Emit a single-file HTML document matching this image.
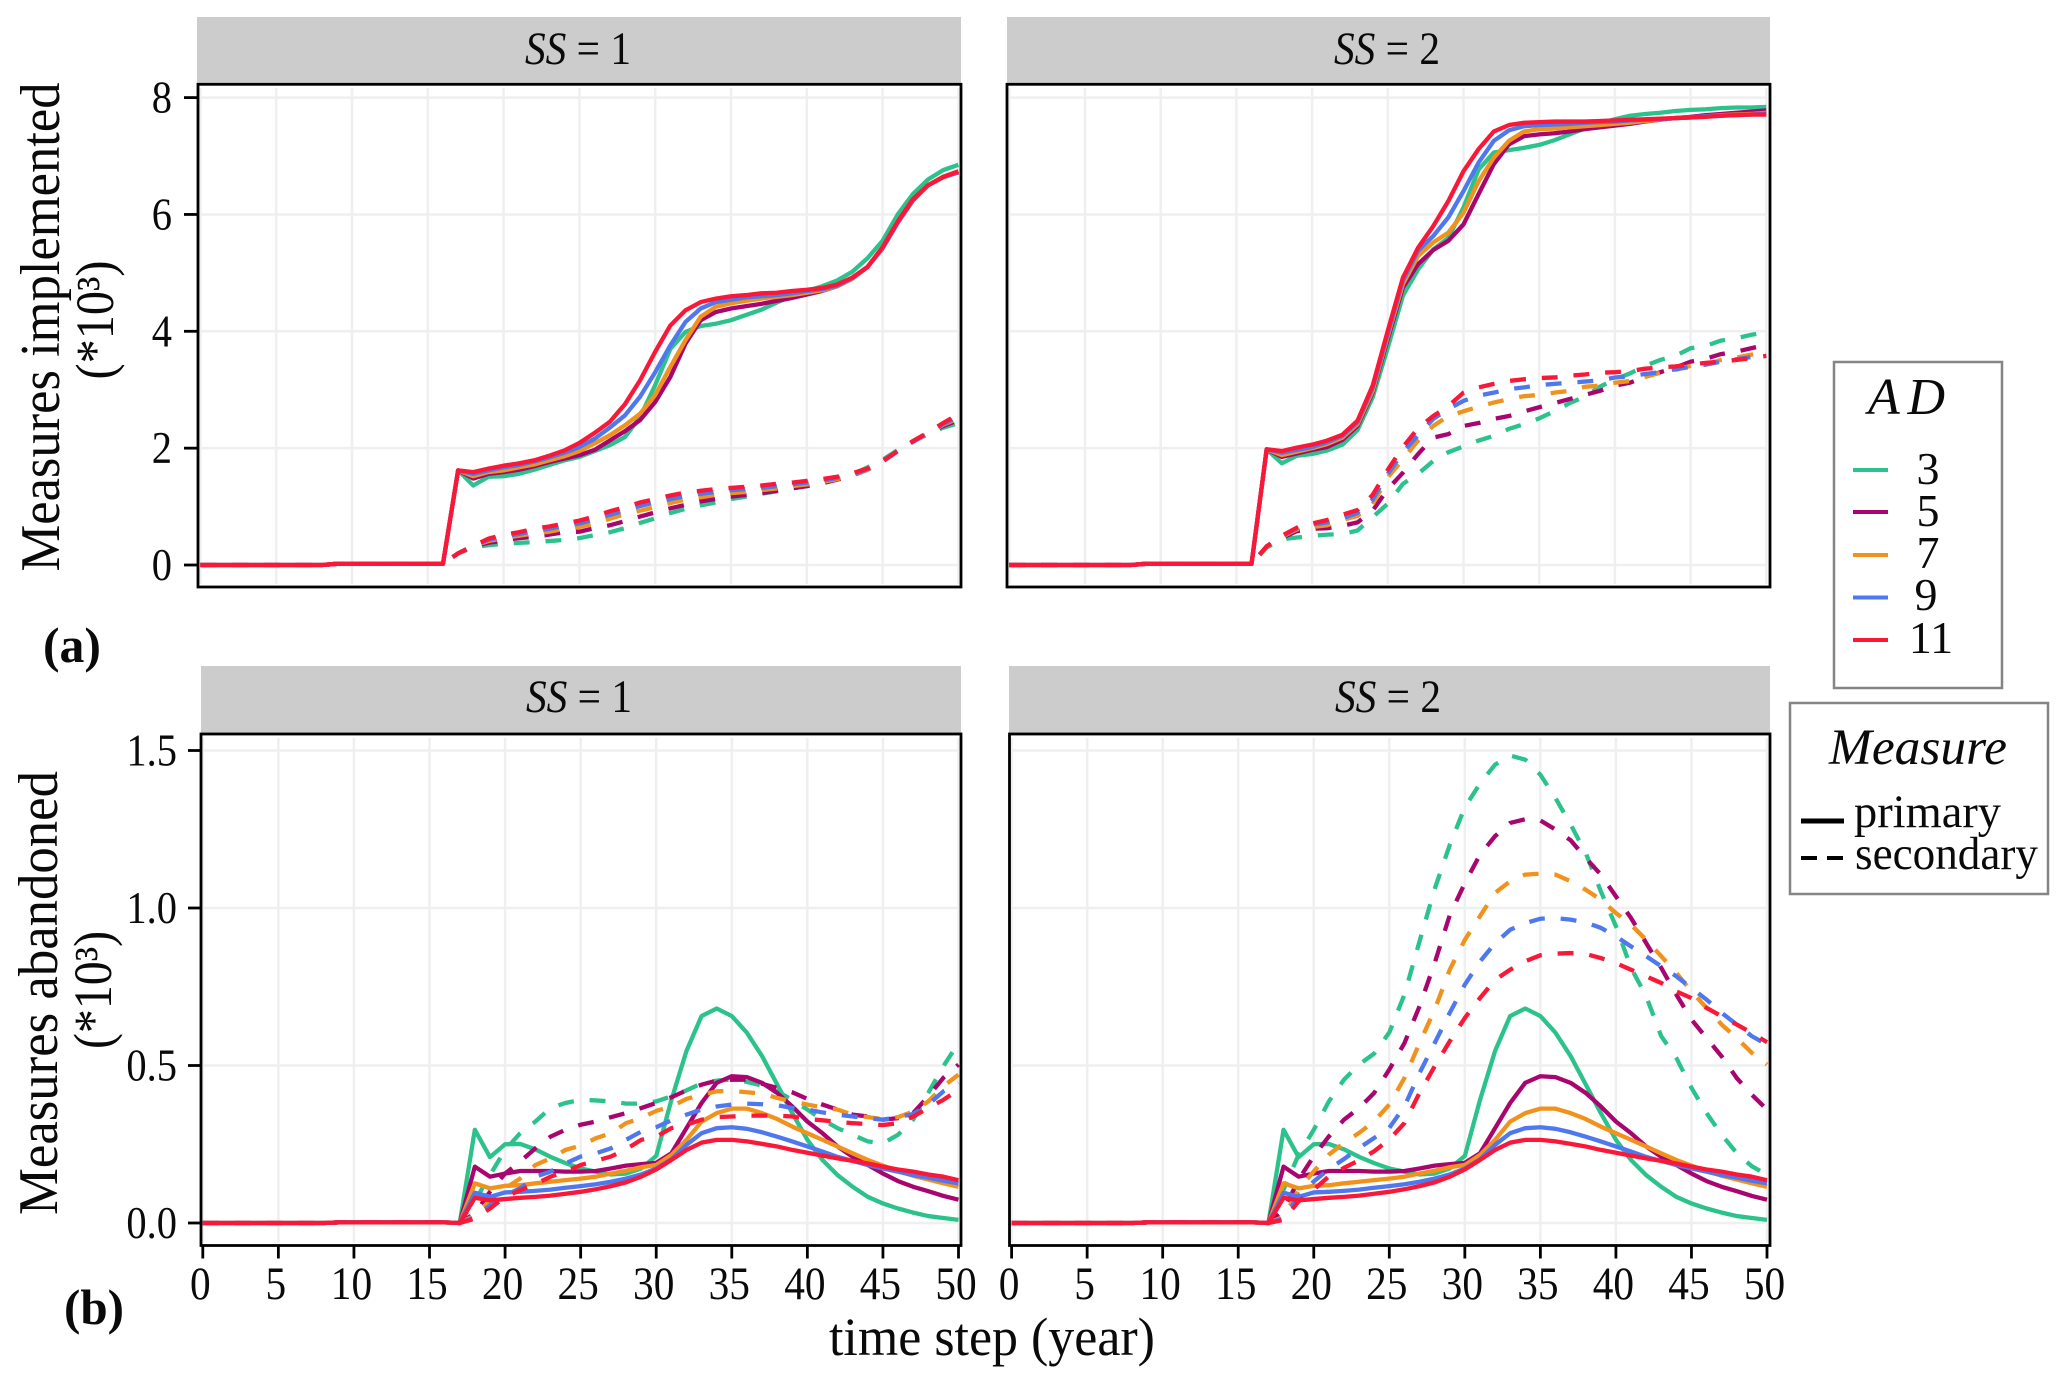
<!DOCTYPE html>
<html lang="en">
<head>
<meta charset="utf-8">
<title>Measures implemented and abandoned over time</title>
<style>
html,body{margin:0;padding:0;background:#fff;}
svg{display:block;}
text{font-family:"Liberation Serif",serif;fill:#0a0a0a;}
</style>
</head>
<body>
<svg id="chart" xmlns="http://www.w3.org/2000/svg" width="2067" height="1386" viewBox="0 0 2067 1386">
  <rect width="2067" height="1386" fill="#fff"/>
  <g id="panels"></g>

  <text transform="translate(59,327) rotate(-90)" text-anchor="middle" font-size="56" textLength="489" lengthAdjust="spacingAndGlyphs">Measures implemented</text>
  <text transform="translate(113,320) rotate(-90)" text-anchor="middle" font-size="54" textLength="119" lengthAdjust="spacingAndGlyphs">(*10³)</text>
  <text transform="translate(57,993) rotate(-90)" text-anchor="middle" font-size="56" textLength="444" lengthAdjust="spacingAndGlyphs">Measures abandoned</text>
  <text transform="translate(111,990) rotate(-90)" text-anchor="middle" font-size="54" textLength="118" lengthAdjust="spacingAndGlyphs">(*10³)</text>
  <text x="829" y="1355" font-size="54" textLength="326" lengthAdjust="spacingAndGlyphs">time step (year)</text>
  <text x="43" y="662" font-size="50" font-weight="bold" textLength="58" lengthAdjust="spacingAndGlyphs">(a)</text>
  <text x="64" y="1324" font-size="50" font-weight="bold" textLength="60" lengthAdjust="spacingAndGlyphs">(b)</text>

  <g>
    <rect x="1834" y="362" width="168" height="326" fill="#fff" stroke="#858585" stroke-width="2.5"/>
    <text x="1868" y="414" font-size="52" font-style="italic" textLength="77" lengthAdjust="spacing">AD</text>
    <line x1="1853" x2="1888" y1="470" y2="470" stroke="#2cc28b" stroke-width="4"/>
    <line x1="1853" x2="1888" y1="512" y2="512" stroke="#a8056f" stroke-width="4"/>
    <line x1="1853" x2="1888" y1="555" y2="555" stroke="#f1921d" stroke-width="4"/>
    <line x1="1853" x2="1888" y1="597.5" y2="597.5" stroke="#4f78ee" stroke-width="4"/>
    <line x1="1853" x2="1888" y1="640" y2="640" stroke="#fa1737" stroke-width="4"/>
    <text x="1928" y="484" font-size="46" text-anchor="middle">3</text>
    <text x="1928" y="526" font-size="46" text-anchor="middle">5</text>
    <text x="1928" y="568" font-size="46" text-anchor="middle">7</text>
    <text x="1926" y="610" font-size="46" text-anchor="middle">9</text>
    <text x="1931" y="653" font-size="46" text-anchor="middle">11</text>
  </g>

  <g>
    <rect x="1790" y="703" width="258" height="191" fill="#fff" stroke="#858585" stroke-width="2.5"/>
    <text x="1829" y="764" font-size="51" font-style="italic" textLength="178" lengthAdjust="spacingAndGlyphs">Measure</text>
    <line x1="1801" x2="1844" y1="821" y2="821" stroke="#000" stroke-width="5"/>
    <line x1="1801" x2="1844" y1="858" y2="858" stroke="#000" stroke-width="4" stroke-dasharray="16 10"/>
    <text x="1854" y="827" font-size="47" textLength="147" lengthAdjust="spacingAndGlyphs">primary</text>
    <text x="1855" y="869" font-size="47" textLength="183" lengthAdjust="spacingAndGlyphs">secondary</text>
  </g>
</svg>

<script>
// ---------- axis tick labels ----------
const xTicks = [0,5,10,15,20,25,30,35,40,45,50];
const yTicksImplemented = [0,2,4,6,8];
const yTicksAbandoned = [0,0.5,1.0,1.5];
const yTickLabelsAbandoned = ["0.0","0.5","1.0","1.5"];
const adLevels = [3,5,7,9,11];

// ---------- implemented, SS = 1, primary (year 0..50) ----------
const implS1PrimaryAd3 = [0,0,0,0,0,0,0,0,0,0.02,0.02,0.02,0.02,0.02,0.02,0.02,0.02,1.62,1.36,1.51,1.52,1.56,1.63,1.71,1.79,1.85,1.95,2.05,2.19,2.53,3.08,3.70,3.99,4.09,4.13,4.19,4.28,4.37,4.49,4.60,4.69,4.77,4.87,5.02,5.25,5.55,6.00,6.35,6.60,6.76,6.85];
const implS1PrimaryAd5 = [0,0,0,0,0,0,0,0,0,0.02,0.02,0.02,0.02,0.02,0.02,0.02,0.02,1.62,1.48,1.56,1.59,1.63,1.69,1.76,1.82,1.88,1.97,2.13,2.29,2.48,2.79,3.22,3.79,4.19,4.33,4.39,4.43,4.47,4.52,4.57,4.63,4.69,4.77,4.90,5.10,5.42,5.86,6.24,6.50,6.64,6.72];
const implS1PrimaryAd7 = [0,0,0,0,0,0,0,0,0,0.02,0.02,0.02,0.02,0.02,0.02,0.02,0.02,1.62,1.52,1.59,1.62,1.67,1.72,1.79,1.86,1.95,2.08,2.22,2.39,2.59,2.91,3.39,3.85,4.25,4.42,4.48,4.52,4.56,4.59,4.62,4.66,4.70,4.77,4.90,5.10,5.43,5.87,6.25,6.50,6.65,6.74];
const implS1PrimaryAd9 = [0,0,0,0,0,0,0,0,0,0.02,0.02,0.02,0.02,0.02,0.02,0.02,0.02,1.62,1.56,1.62,1.67,1.71,1.77,1.84,1.92,2.02,2.16,2.35,2.56,2.88,3.30,3.76,4.16,4.39,4.50,4.54,4.58,4.60,4.62,4.65,4.69,4.72,4.78,4.91,5.10,5.43,5.87,6.25,6.50,6.64,6.73];
const implS1PrimaryAd11 = [0,0,0,0,0,0,0,0,0,0.02,0.02,0.02,0.02,0.02,0.02,0.02,0.02,1.62,1.59,1.65,1.70,1.74,1.79,1.87,1.96,2.09,2.26,2.45,2.75,3.16,3.65,4.10,4.36,4.50,4.56,4.60,4.62,4.65,4.66,4.69,4.71,4.74,4.80,4.92,5.10,5.44,5.88,6.26,6.50,6.64,6.74];

// ---------- implemented, SS = 1, secondary ----------
const implS1SecondaryAd3 = [0,0,0,0,0,0,0,0,0,0.02,0.02,0.02,0.02,0.02,0.02,0.02,0.02,0.20,0.30,0.34,0.36,0.38,0.39,0.41,0.43,0.46,0.51,0.56,0.63,0.72,0.80,0.89,0.96,1.02,1.07,1.13,1.17,1.22,1.26,1.31,1.35,1.40,1.47,1.55,1.67,1.80,1.97,2.12,2.24,2.35,2.43];
const implS1SecondaryAd5 = [0,0,0,0,0,0,0,0,0,0.02,0.02,0.02,0.02,0.02,0.02,0.02,0.02,0.20,0.32,0.38,0.42,0.46,0.48,0.52,0.56,0.57,0.63,0.68,0.75,0.83,0.90,0.97,1.03,1.09,1.13,1.17,1.20,1.23,1.27,1.31,1.35,1.40,1.46,1.53,1.63,1.77,1.95,2.11,2.25,2.38,2.48];
const implS1SecondaryAd7 = [0,0,0,0,0,0,0,0,0,0.02,0.02,0.02,0.02,0.02,0.02,0.02,0.02,0.20,0.33,0.41,0.46,0.50,0.54,0.57,0.62,0.65,0.71,0.79,0.87,0.93,0.99,1.06,1.12,1.16,1.20,1.23,1.25,1.28,1.31,1.35,1.38,1.42,1.47,1.54,1.63,1.77,1.95,2.11,2.25,2.40,2.51];
const implS1SecondaryAd9 = [0,0,0,0,0,0,0,0,0,0.02,0.02,0.02,0.02,0.02,0.02,0.02,0.02,0.20,0.33,0.43,0.49,0.53,0.58,0.62,0.67,0.71,0.78,0.86,0.93,1.01,1.07,1.13,1.18,1.22,1.25,1.28,1.30,1.32,1.35,1.38,1.41,1.44,1.49,1.55,1.64,1.77,1.95,2.11,2.26,2.41,2.54];
const implS1SecondaryAd11 = [0,0,0,0,0,0,0,0,0,0.02,0.02,0.02,0.02,0.02,0.02,0.02,0.02,0.20,0.33,0.45,0.52,0.56,0.62,0.66,0.71,0.76,0.83,0.92,0.99,1.07,1.13,1.19,1.24,1.27,1.30,1.32,1.34,1.36,1.39,1.41,1.44,1.47,1.51,1.57,1.65,1.78,1.95,2.12,2.27,2.43,2.58];

// ---------- implemented, SS = 2, primary ----------
const implS2PrimaryAd3 = [0,0,0,0,0,0,0,0,0,0.02,0.02,0.02,0.02,0.02,0.02,0.02,0.02,1.98,1.74,1.87,1.90,1.96,2.06,2.31,2.87,3.72,4.61,5.06,5.40,5.60,6.12,6.77,7.06,7.10,7.14,7.19,7.27,7.37,7.47,7.56,7.63,7.69,7.72,7.74,7.77,7.79,7.80,7.82,7.83,7.83,7.84];
const implS2PrimaryAd5 = [0,0,0,0,0,0,0,0,0,0.02,0.02,0.02,0.02,0.02,0.02,0.02,0.02,1.98,1.85,1.91,1.97,2.02,2.14,2.38,2.95,3.87,4.75,5.15,5.39,5.55,5.83,6.35,6.86,7.20,7.34,7.37,7.39,7.42,7.46,7.49,7.52,7.55,7.59,7.62,7.65,7.67,7.70,7.72,7.74,7.76,7.78];
const implS2PrimaryAd7 = [0,0,0,0,0,0,0,0,0,0.02,0.02,0.02,0.02,0.02,0.02,0.02,0.02,1.98,1.88,1.94,2.00,2.07,2.18,2.41,2.98,3.92,4.81,5.29,5.52,5.69,6.03,6.57,6.97,7.26,7.42,7.46,7.47,7.49,7.51,7.53,7.55,7.57,7.60,7.62,7.65,7.66,7.68,7.70,7.71,7.72,7.74];
const implS2PrimaryAd9 = [0,0,0,0,0,0,0,0,0,0.02,0.02,0.02,0.02,0.02,0.02,0.02,0.02,1.98,1.92,1.97,2.02,2.10,2.21,2.44,3.03,3.96,4.87,5.38,5.63,5.95,6.40,6.89,7.26,7.44,7.51,7.53,7.54,7.55,7.57,7.58,7.59,7.61,7.62,7.63,7.65,7.66,7.68,7.69,7.70,7.71,7.73];
const implS2PrimaryAd11 = [0,0,0,0,0,0,0,0,0,0.02,0.02,0.02,0.02,0.02,0.02,0.02,0.02,1.98,1.95,2.01,2.06,2.13,2.23,2.47,3.07,4.01,4.92,5.43,5.80,6.23,6.74,7.12,7.42,7.53,7.57,7.58,7.59,7.59,7.59,7.60,7.61,7.62,7.63,7.64,7.65,7.66,7.67,7.69,7.70,7.71,7.71];

// ---------- implemented, SS = 2, secondary ----------
const implS2SecondaryAd3 = [0,0,0,0,0,0,0,0,0,0.02,0.02,0.02,0.02,0.02,0.02,0.02,0.02,0.30,0.44,0.47,0.50,0.52,0.53,0.59,0.82,1.05,1.39,1.56,1.78,1.93,2.03,2.13,2.21,2.33,2.41,2.51,2.63,2.77,2.88,3.05,3.18,3.28,3.41,3.51,3.58,3.71,3.75,3.84,3.88,3.94,3.98];
const implS2SecondaryAd5 = [0,0,0,0,0,0,0,0,0,0.02,0.02,0.02,0.02,0.02,0.02,0.02,0.02,0.31,0.46,0.58,0.62,0.63,0.67,0.73,0.93,1.30,1.58,1.90,2.18,2.24,2.38,2.43,2.50,2.55,2.63,2.70,2.77,2.84,2.91,2.98,3.07,3.12,3.22,3.30,3.38,3.48,3.53,3.61,3.65,3.71,3.77];
const implS2SecondaryAd7 = [0,0,0,0,0,0,0,0,0,0.02,0.02,0.02,0.02,0.02,0.02,0.02,0.02,0.31,0.48,0.61,0.65,0.68,0.77,0.84,1.04,1.50,1.81,2.13,2.38,2.55,2.63,2.71,2.78,2.84,2.89,2.91,2.95,2.98,3.05,3.07,3.12,3.15,3.22,3.29,3.34,3.41,3.43,3.51,3.55,3.60,3.64];
const implS2SecondaryAd9 = [0,0,0,0,0,0,0,0,0,0.02,0.02,0.02,0.02,0.02,0.02,0.02,0.02,0.32,0.49,0.63,0.69,0.73,0.80,0.89,1.12,1.56,1.93,2.22,2.50,2.67,2.81,2.90,2.95,3.01,3.04,3.08,3.10,3.12,3.14,3.16,3.21,3.23,3.27,3.30,3.35,3.39,3.43,3.48,3.52,3.56,3.60];
const implS2SecondaryAd11 = [0,0,0,0,0,0,0,0,0,0.02,0.02,0.02,0.02,0.02,0.02,0.02,0.02,0.32,0.50,0.64,0.71,0.77,0.86,0.94,1.20,1.63,2.02,2.34,2.55,2.72,2.95,3.04,3.10,3.15,3.18,3.20,3.21,3.24,3.26,3.29,3.30,3.32,3.36,3.38,3.40,3.43,3.46,3.48,3.51,3.54,3.58];

// ---------- abandoned, primary (same in SS = 1 and SS = 2) ----------
const abanPrimaryAd3 = [0,0,0,0,0,0,0,0,0,0.002,0.002,0.002,0.002,0.002,0.002,0.002,0.002,0,0.296,0.209,0.25,0.251,0.234,0.21,0.19,0.173,0.163,0.154,0.157,0.173,0.213,0.39,0.546,0.657,0.681,0.657,0.604,0.53,0.44,0.349,0.264,0.2,0.152,0.115,0.083,0.062,0.046,0.033,0.022,0.016,0.01];
const abanPrimaryAd5 = [0,0,0,0,0,0,0,0,0,0.002,0.002,0.002,0.002,0.002,0.002,0.002,0.002,0,0.179,0.147,0.157,0.165,0.165,0.165,0.163,0.163,0.165,0.173,0.182,0.187,0.191,0.221,0.301,0.381,0.445,0.466,0.463,0.445,0.413,0.37,0.322,0.285,0.243,0.21,0.184,0.157,0.133,0.115,0.101,0.086,0.074];
const abanPrimaryAd7 = [0,0,0,0,0,0,0,0,0,0.002,0.002,0.002,0.002,0.002,0.002,0.002,0.002,0,0.126,0.11,0.118,0.12,0.126,0.131,0.136,0.141,0.147,0.157,0.166,0.177,0.184,0.216,0.264,0.322,0.349,0.363,0.363,0.349,0.33,0.306,0.285,0.264,0.243,0.221,0.2,0.182,0.165,0.15,0.138,0.126,0.115];
const abanPrimaryAd9 = [0,0,0,0,0,0,0,0,0,0.002,0.002,0.002,0.002,0.002,0.002,0.002,0.002,0,0.096,0.083,0.097,0.099,0.102,0.106,0.112,0.117,0.123,0.131,0.141,0.154,0.173,0.202,0.248,0.285,0.301,0.304,0.299,0.288,0.274,0.259,0.243,0.227,0.21,0.197,0.184,0.173,0.163,0.152,0.144,0.134,0.126];
const abanPrimaryAd11 = [0,0,0,0,0,0,0,0,0,0.002,0.002,0.002,0.002,0.002,0.002,0.002,0.002,0,0.08,0.072,0.076,0.08,0.083,0.087,0.093,0.099,0.107,0.117,0.129,0.147,0.17,0.2,0.232,0.255,0.264,0.264,0.259,0.251,0.243,0.232,0.223,0.214,0.205,0.197,0.189,0.179,0.17,0.163,0.154,0.147,0.136];

// ---------- abandoned, SS = 1, secondary ----------
const abanS1SecondaryAd3 = [0,0,0,0,0,0,0,0,0,0.002,0.002,0.002,0.002,0.002,0.002,0.002,0.002,0,0.07,0.152,0.232,0.285,0.322,0.365,0.381,0.391,0.389,0.386,0.379,0.379,0.386,0.402,0.421,0.443,0.452,0.455,0.448,0.436,0.418,0.391,0.36,0.328,0.301,0.28,0.259,0.253,0.28,0.328,0.413,0.498,0.572];
const abanS1SecondaryAd5 = [0,0,0,0,0,0,0,0,0,0.002,0.002,0.002,0.002,0.002,0.002,0.002,0.002,0,0.03,0.099,0.157,0.195,0.237,0.274,0.296,0.312,0.322,0.336,0.349,0.365,0.381,0.399,0.421,0.439,0.452,0.455,0.455,0.442,0.429,0.415,0.394,0.376,0.36,0.344,0.338,0.328,0.333,0.349,0.402,0.461,0.503];
const abanS1SecondaryAd7 = [0,0,0,0,0,0,0,0,0,0.002,0.002,0.002,0.002,0.002,0.002,0.002,0.002,0,0.024,0.072,0.11,0.141,0.184,0.205,0.232,0.246,0.269,0.285,0.317,0.333,0.356,0.37,0.394,0.407,0.418,0.42,0.415,0.411,0.397,0.386,0.376,0.367,0.36,0.344,0.336,0.33,0.336,0.354,0.386,0.434,0.471];
const abanS1SecondaryAd9 = [0,0,0,0,0,0,0,0,0,0.002,0.002,0.002,0.002,0.002,0.002,0.002,0.002,0,0.019,0.056,0.088,0.11,0.147,0.163,0.189,0.211,0.221,0.237,0.264,0.29,0.304,0.326,0.344,0.36,0.37,0.376,0.379,0.377,0.374,0.365,0.36,0.351,0.344,0.338,0.333,0.328,0.336,0.346,0.376,0.418,0.445];
const abanS1SecondaryAd11 = [0,0,0,0,0,0,0,0,0,0.002,0.002,0.002,0.002,0.002,0.002,0.002,0.002,0,0.014,0.046,0.083,0.104,0.123,0.147,0.163,0.184,0.197,0.211,0.234,0.264,0.274,0.301,0.312,0.328,0.336,0.338,0.341,0.341,0.341,0.338,0.33,0.326,0.321,0.317,0.314,0.311,0.317,0.338,0.365,0.391,0.423];

// ---------- abandoned, SS = 2, secondary ----------
const abanS2SecondaryAd3 = [0,0,0,0,0,0,0,0,0,0.002,0.002,0.002,0.002,0.002,0.002,0.002,0.002,0,0.106,0.217,0.296,0.386,0.455,0.503,0.538,0.605,0.725,0.894,1.06,1.2,1.32,1.395,1.455,1.484,1.471,1.423,1.349,1.265,1.175,1.053,0.942,0.81,0.72,0.593,0.524,0.429,0.349,0.28,0.222,0.18,0.153];
const abanS2SecondaryAd5 = [0,0,0,0,0,0,0,0,0,0.002,0.002,0.002,0.002,0.002,0.002,0.002,0.002,0,0.04,0.138,0.212,0.275,0.328,0.365,0.413,0.487,0.571,0.688,0.825,0.977,1.079,1.169,1.228,1.27,1.282,1.278,1.249,1.215,1.159,1.106,1.037,0.968,0.889,0.81,0.725,0.646,0.587,0.529,0.46,0.407,0.36];
const abanS2SecondaryAd7 = [0,0,0,0,0,0,0,0,0,0.002,0.002,0.002,0.002,0.002,0.002,0.002,0.002,0,0.02,0.106,0.164,0.217,0.254,0.286,0.323,0.376,0.46,0.571,0.677,0.804,0.899,0.974,1.048,1.085,1.106,1.109,1.106,1.085,1.058,1.026,0.984,0.947,0.899,0.847,0.794,0.735,0.683,0.63,0.587,0.54,0.503];
const abanS2SecondaryAd9 = [0,0,0,0,0,0,0,0,0,0.002,0.002,0.002,0.002,0.002,0.002,0.002,0.002,0,0.015,0.085,0.132,0.171,0.203,0.238,0.27,0.302,0.37,0.476,0.571,0.667,0.757,0.83,0.888,0.931,0.952,0.966,0.968,0.963,0.954,0.937,0.91,0.878,0.847,0.815,0.783,0.746,0.709,0.667,0.63,0.593,0.566];
const abanS2SecondaryAd11 = [0,0,0,0,0,0,0,0,0,0.002,0.002,0.002,0.002,0.002,0.002,0.002,0.002,0,0.01,0.069,0.106,0.148,0.175,0.199,0.228,0.265,0.317,0.413,0.497,0.577,0.651,0.714,0.772,0.804,0.831,0.85,0.855,0.857,0.854,0.841,0.825,0.804,0.783,0.762,0.735,0.714,0.683,0.656,0.63,0.603,0.574];

// ---------- rendering ----------
const SVGNS = 'http://www.w3.org/2000/svg';
const adColor = {3:'#2cc28b',5:'#a8056f',7:'#f1921d',9:'#4f78ee',11:'#fa1737'};

function make(tag, parent) {
  const el = document.createElementNS(SVGNS, tag);
  parent.appendChild(el);
  return el;
}
function linear(d0, d1, r0, r1) {
  return function (v) { return r0 + (v - d0) * (r1 - r0) / (d1 - d0); };
}

const layout = [
  {id:'implemented-ss1', strip:'1', left:198, right:961, stripTop:17, top:84.3, bottom:587, stripLeft:197, x0:200.4, x50:958.4, yD:[0,8], yR:[565,97.6], yTicks:yTicksImplemented, yLabels:yTicksImplemented, showY:true, showX:false, tickLeft:184, labelEnd:172, stripBase:64, stripCx:578,
    series:[[3,implS1PrimaryAd3,implS1SecondaryAd3],[5,implS1PrimaryAd5,implS1SecondaryAd5],[7,implS1PrimaryAd7,implS1SecondaryAd7],[9,implS1PrimaryAd9,implS1SecondaryAd9],[11,implS1PrimaryAd11,implS1SecondaryAd11]]},
  {id:'implemented-ss2', strip:'2', left:1007, right:1770, stripTop:17, top:84.3, bottom:587, stripLeft:1007, x0:1009.3, x50:1766.3, yD:[0,8], yR:[565,97.6], yTicks:yTicksImplemented, yLabels:yTicksImplemented, showY:false, showX:false, stripBase:64, stripCx:1387,
    series:[[3,implS2PrimaryAd3,implS2SecondaryAd3],[5,implS2PrimaryAd5,implS2SecondaryAd5],[7,implS2PrimaryAd7,implS2SecondaryAd7],[9,implS2PrimaryAd9,implS2SecondaryAd9],[11,implS2PrimaryAd11,implS2SecondaryAd11]]},
  {id:'abandoned-ss1', strip:'1', left:201, right:961, stripTop:666, top:734, bottom:1245.5, stripLeft:201, x0:202.8, x50:958.5, yD:[0,1.5], yR:[1223,750.5], yTicks:yTicksAbandoned, yLabels:yTickLabelsAbandoned, showY:true, showX:true, tickLeft:188, labelEnd:177, stripBase:712, stripCx:579,
    series:[[3,abanPrimaryAd3,abanS1SecondaryAd3],[5,abanPrimaryAd5,abanS1SecondaryAd5],[7,abanPrimaryAd7,abanS1SecondaryAd7],[9,abanPrimaryAd9,abanS1SecondaryAd9],[11,abanPrimaryAd11,abanS1SecondaryAd11]]},
  {id:'abandoned-ss2', strip:'2', left:1009.5, right:1770, stripTop:666, top:734, bottom:1245.5, stripLeft:1009, x0:1011.6, x50:1767, yD:[0,1.5], yR:[1223,750.5], yTicks:yTicksAbandoned, yLabels:yTickLabelsAbandoned, showY:false, showX:true, stripBase:712, stripCx:1388,
    series:[[3,abanPrimaryAd3,abanS2SecondaryAd3],[5,abanPrimaryAd5,abanS2SecondaryAd5],[7,abanPrimaryAd7,abanS2SecondaryAd7],[9,abanPrimaryAd9,abanS2SecondaryAd9],[11,abanPrimaryAd11,abanS2SecondaryAd11]]}
];

const panelsRoot = document.getElementById('panels');

function linePath(values, xs, ys) {
  return values.map(function (v, i) {
    return (i ? 'L' : 'M') + xs(i).toFixed(2) + ' ' + ys(v).toFixed(2);
  }).join('');
}

layout.forEach(function (p) {
  const g = make('g', panelsRoot);
  
  
  const xs = linear(0, 50, p.x0, p.x50);
  const ys = linear(p.yD[0], p.yD[1], p.yR[0], p.yR[1]);

  const strip = make('rect', g);
  
  
  strip.setAttribute('x', p.stripLeft);
  strip.setAttribute('y', p.stripTop);
  strip.setAttribute('width', p.right - p.stripLeft);
  strip.setAttribute('height', p.top - p.stripTop);
  strip.setAttribute('fill', '#cccccc');

  const label = make('text', g);
  
  
  label.setAttribute('transform', 'translate(' + p.stripCx + ',' + p.stripBase + ') scale(0.88,1)');
  label.setAttribute('font-size', '47');
  label.setAttribute('text-anchor', 'middle');
  const ss = make('tspan', label);
  ss.setAttribute('font-style', 'italic');
  ss.textContent = 'SS';
  const rest = make('tspan', label);
  rest.textContent = ' = ' + p.strip;

  const clipId = 'clip-' + p.id;
  const defs = make('defs', g);
  const clip = make('clipPath', defs);
  clip.setAttribute('id', clipId);
  const clipRect = make('rect', clip);
  clipRect.setAttribute('x', p.left);
  clipRect.setAttribute('y', p.top);
  clipRect.setAttribute('width', p.right - p.left);
  clipRect.setAttribute('height', p.bottom - p.top);

  xTicks.forEach(function (t) {
    const grid = make('line', g);
    
    
    grid.setAttribute('x1', xs(t));
    grid.setAttribute('x2', xs(t));
    grid.setAttribute('y1', p.top + 4);
    grid.setAttribute('y2', p.bottom - 3);
    grid.setAttribute('stroke', '#efefef');
    grid.setAttribute('stroke-width', '2.5');
  });
  p.yTicks.forEach(function (t) {
    const grid = make('line', g);
    
    
    grid.setAttribute('x1', p.left + 3);
    grid.setAttribute('x2', p.right - 3);
    grid.setAttribute('y1', ys(t));
    grid.setAttribute('y2', ys(t));
    grid.setAttribute('stroke', '#efefef');
    grid.setAttribute('stroke-width', '2.5');
  });

  const marks = make('g', g);
  marks.setAttribute('clip-path', 'url(#' + clipId + ')');
  p.series.forEach(function (s) {
    const ad = s[0];
    const solid = make('path', marks);
    
    
    solid.setAttribute('d', linePath(s[1], xs, ys));
    solid.setAttribute('fill', 'none');
    solid.setAttribute('stroke', adColor[ad]);
    solid.setAttribute('stroke-width', '4.3');
    solid.setAttribute('stroke-linejoin', 'round');
    const dashed = make('path', marks);
    
    
    dashed.setAttribute('d', linePath(s[2], xs, ys));
    dashed.setAttribute('fill', 'none');
    dashed.setAttribute('stroke', adColor[ad]);
    dashed.setAttribute('stroke-width', '4.3');
    dashed.setAttribute('stroke-dasharray', '15.9 15.9');
  });

  const frame = make('rect', g);
  
  
  frame.setAttribute('x', p.left);
  frame.setAttribute('y', p.top);
  frame.setAttribute('width', p.right - p.left);
  frame.setAttribute('height', p.bottom - p.top);
  frame.setAttribute('fill', 'none');
  frame.setAttribute('stroke', '#000');
  frame.setAttribute('stroke-width', '2.8');

  if (p.showY) {
    p.yTicks.forEach(function (t, i) {
      const tick = make('line', g);
      
      
      tick.setAttribute('x1', p.tickLeft);
      tick.setAttribute('x2', p.left);
      tick.setAttribute('y1', ys(t));
      tick.setAttribute('y2', ys(t));
      tick.setAttribute('stroke', '#000');
      tick.setAttribute('stroke-width', '2.8');
      const txt = make('text', g);
      
      
      txt.setAttribute('transform', 'translate(' + p.labelEnd + ',' + (ys(t) + 15) + ') scale(0.9,1)');
      txt.setAttribute('font-size', '45');
      txt.setAttribute('text-anchor', 'end');
      txt.textContent = p.yLabels[i];
    });
  }
  if (p.showX) {
    xTicks.forEach(function (t) {
      const tick = make('line', g);
      
      
      tick.setAttribute('x1', xs(t));
      tick.setAttribute('x2', xs(t));
      tick.setAttribute('y1', p.bottom);
      tick.setAttribute('y2', p.bottom + 13);
      tick.setAttribute('stroke', '#000');
      tick.setAttribute('stroke-width', '2.8');
      const txt = make('text', g);
      
      
      txt.setAttribute('transform', 'translate(' + (xs(t) - 2.5) + ',1299) scale(0.88,1)');
      txt.setAttribute('font-size', '47');
      txt.setAttribute('text-anchor', 'middle');
      txt.textContent = t;
    });
  }
});
</script>
</body>
</html>
